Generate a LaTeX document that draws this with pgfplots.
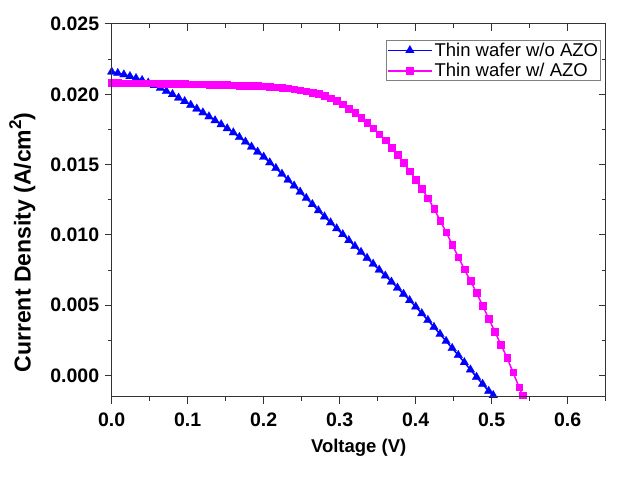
\documentclass[border=0pt]{standalone}
\usepackage{pgfplots}
\pgfplotsset{compat=1.18}
\usepackage{pgfplotstable}
\usepackage{fontspec}
\setmainfont{Liberation Sans}
\definecolor{myblue}{RGB}{0,0,255}
\definecolor{mymag}{RGB}{255,0,255}

\pgfplotstableread{
V J
0.000 0.02160
0.008 0.02150
0.016 0.02140
0.024 0.02128
0.032 0.02114
0.040 0.02100
0.048 0.02082
0.056 0.02064
0.064 0.02044
0.072 0.02022
0.080 0.02000
0.088 0.01975
0.096 0.01950
0.104 0.01924
0.112 0.01897
0.120 0.01870
0.128 0.01842
0.136 0.01814
0.144 0.01786
0.152 0.01757
0.160 0.01728
0.168 0.01695
0.176 0.01662
0.184 0.01627
0.192 0.01591
0.200 0.01555
0.208 0.01515
0.216 0.01475
0.224 0.01434
0.232 0.01392
0.240 0.01350
0.248 0.01306
0.256 0.01262
0.264 0.01218
0.272 0.01174
0.280 0.01130
0.288 0.01088
0.296 0.01046
0.304 0.01004
0.312 0.00962
0.320 0.00920
0.328 0.00878
0.336 0.00836
0.344 0.00794
0.352 0.00752
0.360 0.00710
0.368 0.00667
0.376 0.00624
0.384 0.00580
0.392 0.00535
0.400 0.00490
0.408 0.00442
0.416 0.00394
0.424 0.00345
0.432 0.00295
0.440 0.00245
0.448 0.00195
0.456 0.00145
0.464 0.00094
0.472 0.00042
0.480 -0.00010
0.488 -0.00060
0.496 -0.00110
0.502 -0.00140
}\woazo

\pgfplotstableread{
V J
0.000 0.02082
0.008 0.02082
0.016 0.02081
0.024 0.02081
0.032 0.02081
0.040 0.02080
0.048 0.02079
0.056 0.02079
0.064 0.02078
0.072 0.02078
0.080 0.02077
0.088 0.02076
0.096 0.02075
0.104 0.02074
0.112 0.02073
0.120 0.02072
0.128 0.02071
0.136 0.02070
0.144 0.02068
0.152 0.02067
0.160 0.02066
0.168 0.02064
0.176 0.02063
0.184 0.02061
0.192 0.02060
0.200 0.02058
0.208 0.02055
0.216 0.02052
0.224 0.02048
0.232 0.02043
0.240 0.02038
0.248 0.02031
0.256 0.02024
0.264 0.02014
0.272 0.02003
0.280 0.01992
0.288 0.01973
0.296 0.01954
0.304 0.01930
0.312 0.01900
0.320 0.01870
0.328 0.01834
0.336 0.01798
0.344 0.01759
0.352 0.01717
0.360 0.01675
0.368 0.01623
0.376 0.01571
0.384 0.01515
0.392 0.01455
0.400 0.01395
0.408 0.01329
0.416 0.01263
0.424 0.01188
0.432 0.01104
0.440 0.01020
0.448 0.00932
0.456 0.00844
0.464 0.00756
0.472 0.00674
0.480 0.00590
0.488 0.00498
0.496 0.00406
0.504 0.00314
0.512 0.00222
0.520 0.00130
0.528 0.00024
0.536 -0.00082
0.5405 -0.00140
}\wazo

\begin{document}
\begin{tikzpicture}
\useasboundingbox (0,0) rectangle (636pt,479pt);
\pgfplotsset{
  myax/.style={
    at={(111.7pt,82.3pt)}, anchor=south west,
    scale only axis, width=494pt, height=372.7pt,
    xmin=0, xmax=0.65, ymin=-0.0015, ymax=0.025,
    xtick={0,0.1,0.2,0.3,0.4,0.5,0.6},
    ytick={0,0.005,0.01,0.015,0.02,0.025},
    minor xtick={0.05,0.15,0.25,0.35,0.45,0.55,0.65},
    minor ytick={0.0025,0.0075,0.0125,0.0175,0.0225},
    major tick length=7pt, minor tick length=4pt,
    axis line style={line width=1pt, black!80},
    every tick/.style={black!80, line width=1pt},
    scaled y ticks=false, scaled x ticks=false,
  }
}
\begin{axis}[myax, xtick pos=left, ytick pos=left, tick align=outside,
  /pgf/number format/assume math mode=true,
  xticklabel style={/pgf/number format/.cd, fixed, fixed zerofill, precision=1, /tikz/.cd, yshift=-6pt},
  yticklabel style={/pgf/number format/.cd, fixed, fixed zerofill, precision=3, /tikz/.cd, xshift=-2pt},
  tick label style={font=\fontsize{19.5}{19.5}\selectfont\bfseries},
  xlabel={Voltage (V)},
  ylabel={Current Density (A/cm\raisebox{0.42em}{\fontsize{17}{17}\selectfont 2})},
  xlabel style={font=\fontsize{18.5}{18.5}\selectfont\bfseries, at={(axis description cs:0.5,-0.138)}, anchor=center},
  ylabel style={font=\fontsize{23}{23}\selectfont\bfseries, at={(axis description cs:-0.181,0.414)}, anchor=center},
  legend cell align=left,
  legend style={at={(axis description cs:0.9905,0.957)}, anchor=north east,
    draw=black!50, line width=0.8pt, font=\fontsize{18.5}{18.5}\selectfont,
    inner sep=0.5pt, row sep=1.5pt},
  legend image code/.code={\draw[line width=1.5pt, mark repeat=2, mark phase=2] plot coordinates {(0pt,0pt) (22pt,0pt) (44pt,0pt)};},
]
\addplot[color=myblue, line width=1.5pt, mark=triangle*, mark size=5pt, mark options={solid, line width=0.2pt}] table[x=V, y=J] {\woazo};
\addlegendentry{Thin wafer w/o AZO}
\addplot[color=mymag, line width=1.5pt, mark=square*, mark size=3.3pt, mark options={solid, line width=0.2pt}] table[x=V, y=J] {\wazo};
\addlegendentry{Thin wafer w/ AZO}
\end{axis}
\begin{axis}[myax, xtick pos=right, ytick pos=right, tick align=inside,
  xticklabels={}, yticklabels={}]
\end{axis}
\end{tikzpicture}
\end{document}
